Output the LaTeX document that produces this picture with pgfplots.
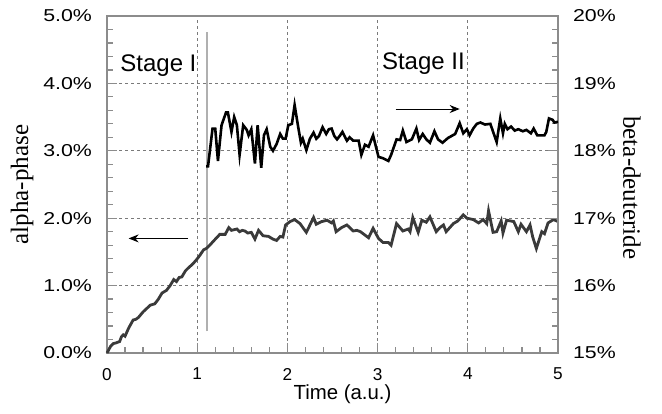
\documentclass[border=0pt]{standalone}
\usepackage{fontspec}
\setmainfont{Liberation Serif}
\newfontfamily\tickfont[FakeStretch=1.24]{Liberation Sans}
\newfontfamily\stagefont{Liberation Sans}
\usepackage{pgfplots}
\pgfplotsset{compat=1.18}
\usetikzlibrary{arrows.meta}

\definecolor{axgray}{HTML}{8C8C8C}
\definecolor{gridgray}{HTML}{7A7A7A}
\definecolor{alphacol}{HTML}{3A3A3A}
\definecolor{markgray}{HTML}{B0B0B0}

\pgfplotsset{
  common/.style={
    width=225.5pt, height=168.5pt, scale only axis,
    at={(0,0)}, anchor=south west,
    xmin=0, xmax=5,
    /pgf/number format/assume math mode=true,
    tick align=inside,
    major tick length=5pt, minor tick length=3pt,
    every tick/.style={axgray, line width=0.6pt},
    axis line style={axgray, line width=0.8pt},
    yticklabel style={font=\tickfont\fontsize{8.6}{10}\selectfont},
    xticklabel style={font=\stagefont\fontsize{8.6}{10}\selectfont},
  }
}

\begin{document}
\begin{tikzpicture}
\useasboundingbox (-53.5pt,-30pt) rectangle (277.5pt,176.5pt);

% left axis: alpha-phase
\begin{axis}[
  common,
  ymin=0, ymax=5,
  xtick={0,1,2,3,4,5}, ytick={0,1,2,3,4,5},
  minor x tick num=4, minor y tick num=4,
  xtick pos=bottom, ytick pos=left,
  grid=major,
  major grid style={gridgray, line width=0.5pt, dash pattern=on 1.5pt off 1.5pt},
  yticklabel={\pgfmathprintnumber[fixed,fixed zerofill,precision=1]{\tick}\%},
  yticklabel style={xshift=-4pt},
  xticklabel style={yshift=-4pt},
  clip=false,
]
\addplot[markgray, line width=1pt] coordinates {(1.11,0.32) (1.11,4.77)};

\addplot[alphacol, line width=1.4pt] coordinates {
(0,0) (0.04,0.10) (0.07,0.14) (0.10,0.15) (0.14,0.17) (0.16,0.24) (0.18,0.27)
(0.20,0.25) (0.24,0.37) (0.29,0.49) (0.32,0.50) (0.35,0.53) (0.40,0.61)
(0.44,0.66) (0.48,0.71) (0.53,0.73) (0.57,0.80) (0.61,0.89) (0.66,0.93)
(0.70,1.00) (0.74,1.09) (0.77,1.06) (0.80,1.12) (0.83,1.13) (0.87,1.22)
(0.90,1.26) (0.95,1.32) (0.99,1.38) (1.03,1.45) (1.07,1.53) (1.10,1.55)
(1.14,1.60) (1.18,1.66) (1.23,1.73) (1.25,1.76) (1.31,1.76) (1.35,1.86)
(1.38,1.82) (1.41,1.83) (1.44,1.84) (1.47,1.80) (1.50,1.82) (1.53,1.81)
(1.56,1.78) (1.60,1.79) (1.64,1.69) (1.68,1.82) (1.73,1.74) (1.79,1.73)
(1.84,1.69) (1.88,1.67) (1.92,1.73) (1.95,1.72) (1.98,1.90) (2.03,1.95)
(2.08,1.98) (2.14,1.92) (2.21,1.79) (2.29,2.01) (2.32,1.91) (2.38,1.95)
(2.44,1.97) (2.49,1.93) (2.51,1.96) (2.54,1.80) (2.60,1.86) (2.66,1.90)
(2.73,1.81) (2.77,1.82) (2.81,1.80) (2.86,1.75) (2.90,1.71) (2.95,1.85)
(3.01,1.70) (3.06,1.64) (3.12,1.64) (3.15,1.60) (3.21,1.92) (3.28,1.81)
(3.34,1.84) (3.36,1.80) (3.39,2.01) (3.45,1.79) (3.49,1.97) (3.54,1.94)
(3.58,2.02) (3.65,1.80) (3.69,1.86) (3.73,1.90) (3.76,1.80) (3.84,1.92)
(3.89,1.96) (3.95,2.05) (3.99,2.00) (4.06,1.98) (4.12,1.93) (4.17,1.98)
(4.21,1.92) (4.23,2.11) (4.28,1.79) (4.32,1.80) (4.37,1.96) (4.39,1.78)
(4.43,1.97) (4.51,1.95) (4.56,1.80) (4.59,1.91) (4.65,1.80) (4.69,1.90)
(4.72,1.72) (4.76,1.55) (4.82,1.80) (4.85,1.77) (4.89,1.93) (4.95,1.98)
(5.00,1.95)
};

\draw[-{Stealth[length=5pt,width=4pt]}, line width=0.5pt] (axis cs:0.90,1.70) -- (axis cs:0.24,1.70);
\draw[-{Stealth[length=5pt,width=4pt]}, line width=0.5pt] (axis cs:3.20,3.62) -- (axis cs:3.91,3.62);

\node[anchor=west, inner sep=0pt, font=\stagefont\fontsize{12}{14}\selectfont] at (axis cs:0.144,4.27) {Stage I};
\node[anchor=west, inner sep=0pt, font=\stagefont\fontsize{12}{14}\selectfont] at (axis cs:3.045,4.30) {Stage II};

\node[rotate=90, font=\fontsize{12.5}{14}\selectfont] at ([xshift=-42.5pt]rel axis cs:0,0.50) {alpha-phase};
\node[font=\stagefont\fontsize{10.2}{12}\selectfont] at ([xshift=5pt,yshift=-20.5pt]rel axis cs:0.5,0) {Time (a.u.)};
\end{axis}

% right axis: beta-deuteride
\begin{axis}[
  common,
  ymin=15, ymax=20,
  axis x line=none, axis y line*=right,
  ytick={15,16,17,18,19,20}, minor y tick num=4,
  yticklabel={\pgfmathprintnumber{\tick}\%},
  yticklabel style={xshift=4pt},
  clip=false,
]
\addplot[black, line width=1.3pt] coordinates {
(1.10,17.77) (1.12,17.77) (1.17,18.33) (1.20,18.33) (1.23,17.85) (1.27,18.38)
(1.32,18.57) (1.34,18.57) (1.38,18.28) (1.41,18.50) (1.44,18.38) (1.47,17.94)
(1.51,18.38) (1.55,18.31) (1.57,18.23) (1.60,18.32) (1.64,17.81) (1.67,18.38)
(1.71,17.75) (1.74,18.23) (1.77,18.32) (1.81,18.06) (1.84,18.00) (1.88,18.10)
(1.92,18.25) (1.95,18.18) (1.98,18.18) (2.01,18.38) (2.05,18.40) (2.08,18.68)
(2.12,18.35) (2.15,18.12) (2.17,18.18) (2.21,18.01) (2.25,18.18) (2.29,18.27)
(2.32,18.18) (2.35,18.22) (2.39,18.35) (2.43,18.25) (2.46,18.32) (2.49,18.33)
(2.52,18.22) (2.55,18.17) (2.58,18.22) (2.61,18.28) (2.66,18.15) (2.69,18.20)
(2.73,18.15) (2.79,18.15) (2.82,17.94) (2.86,18.09) (2.90,18.06) (2.95,18.23)
(3.01,17.91) (3.06,17.89) (3.12,17.85) (3.15,17.94) (3.21,18.17) (3.25,18.16)
(3.28,18.30) (3.32,18.13) (3.38,18.17) (3.43,18.33) (3.46,18.16) (3.50,18.25)
(3.54,18.17) (3.58,18.12) (3.63,18.29) (3.67,18.17) (3.72,18.12) (3.78,18.19)
(3.86,18.25) (3.91,18.41) (3.95,18.26) (3.99,18.32) (4.02,18.23) (4.06,18.33)
(4.10,18.40) (4.14,18.42) (4.19,18.39) (4.25,18.40) (4.32,18.13) (4.36,18.48)
(4.39,18.26) (4.41,18.40) (4.44,18.32) (4.48,18.36) (4.52,18.30) (4.56,18.32)
(4.61,18.29) (4.65,18.31) (4.70,18.26) (4.73,18.33) (4.77,18.23) (4.85,18.23)
(4.87,18.28) (4.90,18.48) (4.94,18.46) (4.96,18.42) (5.00,18.43)
};
\node[rotate=-90, font=\fontsize{12.5}{14}\selectfont] at ([xshift=37pt]rel axis cs:1,0.49) {beta-deuteride};
\end{axis}
\end{tikzpicture}
\end{document}
